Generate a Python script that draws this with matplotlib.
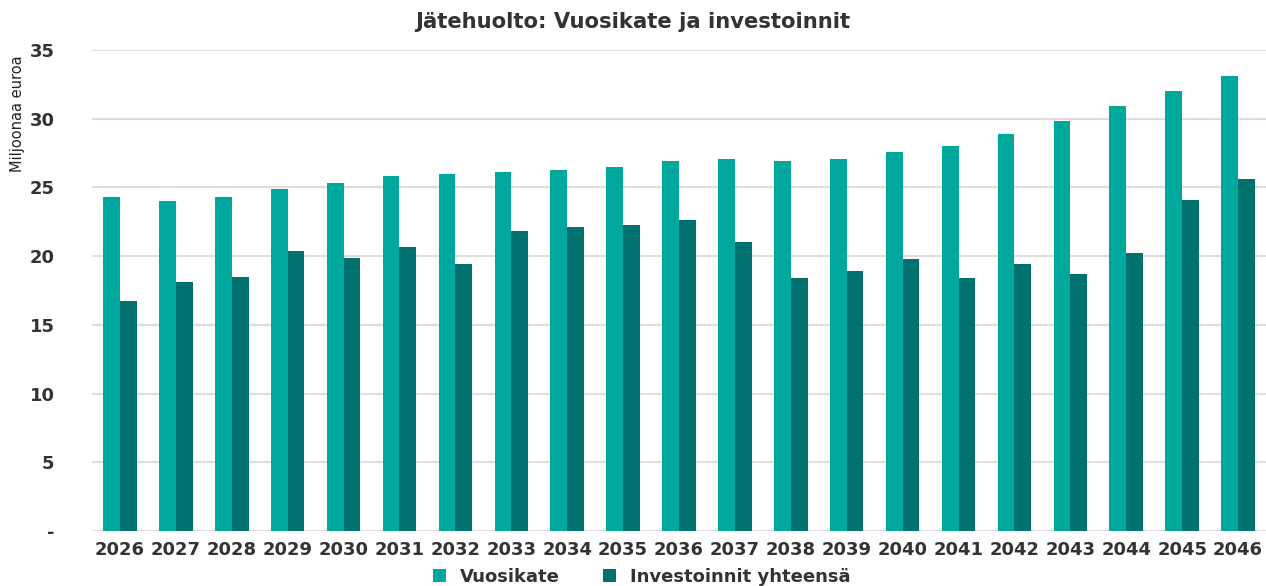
import numpy as np
import matplotlib
matplotlib.use("Agg")
import matplotlib.pyplot as plt

plt.rcParams['font.family'] = ['DejaVu Sans']

# data (miljoonaa euroa)
years = [str(y) for y in range(2026, 2047)]
vuosikate = [24.3, 24.0, 24.3, 24.9, 25.3, 25.8, 26.0, 26.1, 26.3, 26.5, 26.9,
             27.1, 26.9, 27.1, 27.6, 28.0, 28.9, 29.8, 30.9, 32.0, 33.1]
investoinnit = [16.7, 18.1, 18.5, 20.4, 19.9, 20.7, 19.4, 21.8, 22.1, 22.3, 22.6,
                21.0, 18.4, 18.9, 19.8, 18.4, 19.4, 18.7, 20.2, 24.1, 25.6]
yticks = [0, 5, 10, 15, 20, 25, 30, 35]
ytick_labels = ['-', '5', '10', '15', '20', '25', '30', '35']

c_vk = '#00A79D'
c_inv = '#00716F'

fig = plt.figure(figsize=(12.66, 5.86), dpi=100)
ax = fig.add_axes([92/1266, 1-531/586, 1174/1266, 481/586])

x = np.arange(len(years))
w = 0.3
ax.bar(x - w/2, vuosikate, w, color=c_vk, label='Vuosikate', zorder=3)
ax.bar(x + w/2, investoinnit, w, color=c_inv, label='Investoinnit yhteensä', zorder=3)

ax.set_xlim(-0.5, len(years) - 0.5)
ax.set_ylim(0, 35)
ax.set_yticks(yticks)
ax.set_yticklabels(ytick_labels)
ax.set_xticks(x)
ax.set_xticklabels(years)
ax.tick_params(length=0)
ax.tick_params(axis='x', pad=7, labelsize=13, labelcolor='#333333')
ax.tick_params(axis='y', pad=27, labelsize=13, labelcolor='#333333')
for lab in ax.get_xticklabels() + ax.get_yticklabels():
    lab.set_fontweight('bold')
ax.grid(axis='y', color='#dddddd', linewidth=1.5, zorder=0)
for s in ax.spines.values():
    s.set_visible(False)

fig.text(0.5, 1-22/586, 'Jätehuolto: Vuosikate ja investoinnit', ha='center', va='center',
         fontsize=15.2, fontweight='bold', color='#333333')
fig.text(18/1266, 1-114/586, 'Miljoonaa euroa', rotation=90, ha='center', va='center',
         fontsize=10.5, color='#222222')

fig.legend(loc='center', bbox_to_anchor=(0.507, 1-577/586), ncol=2, frameon=False,
           handlelength=0.7, handleheight=0.7, columnspacing=2.4,
           handletextpad=0.8, labelcolor='#333333', prop={'weight': 'bold', 'size': 13})

fig.savefig('out.png', dpi=100)
